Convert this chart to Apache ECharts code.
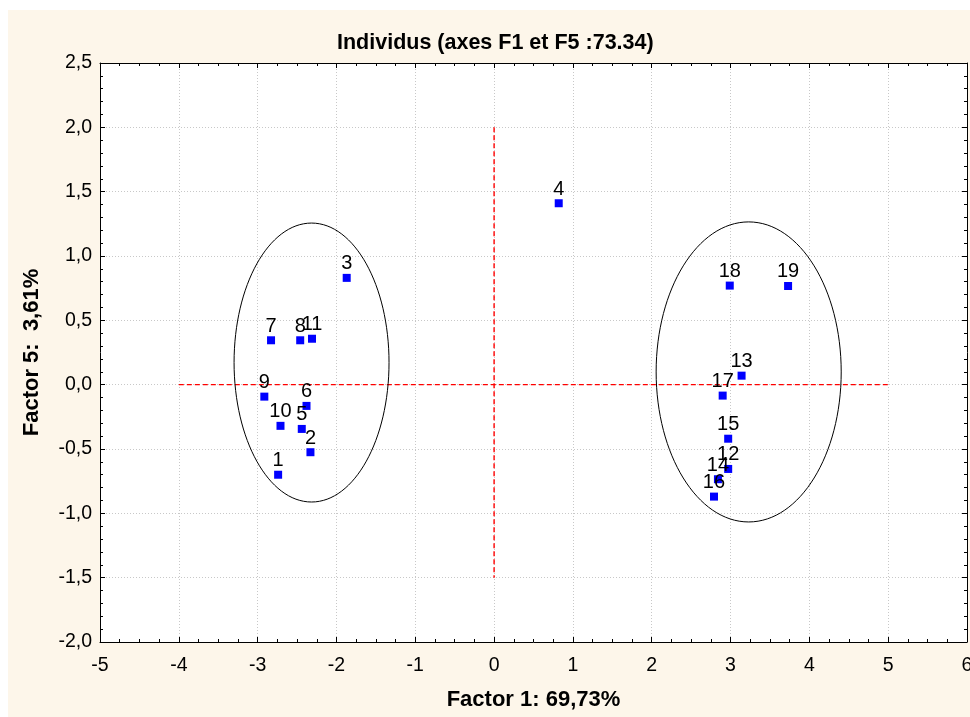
<!DOCTYPE html>
<html>
<head>
<meta charset="utf-8">
<script src="https://cdn.jsdelivr.net/npm/echarts@6/dist/echarts.min.js"></script>
<style>html,body{margin:0;padding:0;background:#fff}#c{width:970px;height:717px}</style>
</head>
<body>
<div id="c"></div>
<script>
// ---- data ----
var pointLabels = ['1','2','3','4','5','6','7','8','9','10','11','12','13','14','15','16','17','18','19'];
var factor1 = [-2.74,-2.33,-1.87,0.82,-2.44,-2.38,-2.83,-2.46,-2.915,-2.71,-2.31,2.97,3.14,2.84,2.97,2.79,2.90,2.99,3.73];
var factor5 = [-0.70,-0.525,0.83,1.41,-0.344,-0.165,0.345,0.345,-0.093,-0.32,0.357,-0.655,0.07,-0.735,-0.42,-0.87,-0.085,0.77,0.767];
var xTicks = [-5,-4,-3,-2,-1,0,1,2,3,4,5,6];
var yTicks = [-2.0,-1.5,-1.0,-0.5,0.0,0.5,1.0,1.5,2.0,2.5];
// reference lines
var vLine = [[0, 2.0],[0, -1.5]];
var hLine = [[-4, 0],[5, 0]];
// ellipses: [cx, cy, rx, ry]
var ellipses = [[-2.316, 0.172, 0.983, 1.084],[3.23, 0.099, 1.174, 1.166]];

var pts = factor1.map(function(x,i){return {value:[x,factor5[i]], name:pointLabels[i]};});
var FONT = 'Liberation Sans, Arial, sans-serif';

var chart = echarts.init(document.getElementById('c'));
var axX = {
  type:'value', min:xTicks[0], max:xTicks[xTicks.length-1], interval:1,
  axisLine:{show:true,onZero:false,lineStyle:{color:'#000',width:1}},
  axisTick:{show:true,inside:true,length:5,lineStyle:{color:'#000'}},
  minorTick:{show:true,splitNumber:4,length:3,lineStyle:{color:'#000'}},
  splitLine:{show:false}
};
var axY = {
  type:'value', min:yTicks[0], max:yTicks[yTicks.length-1], interval:0.5,
  axisLine:{show:true,onZero:false,lineStyle:{color:'#000',width:1}},
  axisTick:{show:true,inside:true,length:5,lineStyle:{color:'#000'}},
  minorTick:{show:true,splitNumber:5,length:3,lineStyle:{color:'#000'}},
  splitLine:{show:false}
};
function clone(o){return JSON.parse(JSON.stringify(o));}
var xBottom = clone(axX); xBottom.position='bottom';
xBottom.splitLine={show:true,lineStyle:{color:'#c8c8c8',type:[1,2],width:1}};
xBottom.axisLabel={show:true,color:'#000',fontSize:19.5,fontFamily:FONT,margin:14,showMaxLabel:true,showMinLabel:true};
xBottom.name='Factor 1: 69,73%'; xBottom.nameLocation='middle'; xBottom.nameGap=47;
xBottom.nameTextStyle={fontSize:22,fontWeight:'bold',color:'#000',fontFamily:FONT};
var xTop = clone(axX); xTop.position='top'; xTop.axisLabel={show:false};
var yLeft = clone(axY); yLeft.position='left';
yLeft.splitLine={show:true,lineStyle:{color:'#c8c8c8',type:[1,2],width:1}};
yLeft.axisLabel={show:true,color:'#000',fontSize:19.5,fontFamily:FONT,margin:8,
  formatter:function(v){return v.toFixed(1).replace('.',',');}};
yLeft.name='Factor 5:  3,61%'; yLeft.nameLocation='middle'; yLeft.nameGap=57;
yLeft.nameTextStyle={fontSize:22,fontWeight:'bold',color:'#000',fontFamily:FONT};
var yRight = clone(axY); yRight.position='right'; yRight.axisLabel={show:false};

chart.setOption({
  backgroundColor:'#ffffff',
  animation:false,
  graphic:[{type:'rect',z:-100,shape:{x:8,y:10,width:962,height:707},style:{fill:'#fdf6ea'}}],
  title:{text:'Individus (axes F1 et F5 :73.34)',left:332,top:27,
    textStyle:{fontSize:21.5,fontWeight:'bold',color:'#000',fontFamily:FONT}},
  grid:{left:100,top:63,right:3,bottom:75,show:true,backgroundColor:'#ffffff',borderWidth:0,
    containLabel:false,outerBoundsMode:'none'},
  xAxis:[xBottom,xTop],
  yAxis:[yLeft,yRight],
  series:[
    {type:'line',data:vLine,symbol:'none',lineStyle:{color:'#ff0000',width:1.4,type:[5,3]},silent:true,z:1},
    {type:'line',data:hLine,symbol:'none',lineStyle:{color:'#ff0000',width:1.4,type:[5,3]},silent:true,z:1},
    {type:'custom',data:ellipses,silent:true,z:2,
      renderItem:function(params,api){
        var c=api.coord([api.value(0),api.value(1)]);
        var s=api.size([api.value(2),api.value(3)]);
        return {type:'ellipse',shape:{cx:c[0],cy:c[1],rx:s[0],ry:s[1]},
          style:{fill:'none',stroke:'#000',lineWidth:1}};
      }},
    {type:'scatter',data:pts,symbol:'rect',symbolSize:8,itemStyle:{color:'#0000ff',opacity:1},z:3,
      label:{show:true,position:'top',distance:0,formatter:'{b}',color:'#000',fontSize:20,fontFamily:FONT}}
  ]
});
</script>
</body>
</html>
